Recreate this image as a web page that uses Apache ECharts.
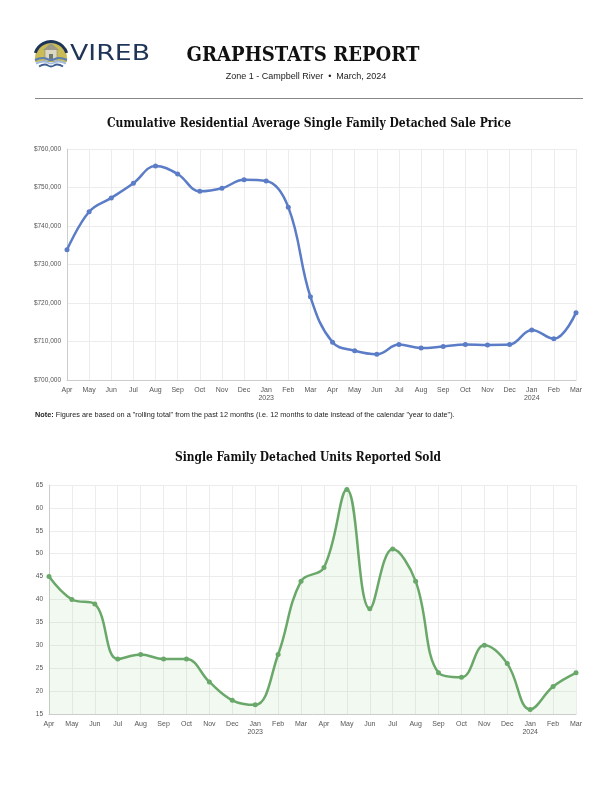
<!DOCTYPE html>
<html>
<head>
<meta charset="utf-8">
<title>GraphStats Report - Campbell River</title>
<script src="https://cdn.jsdelivr.net/npm/echarts@6/dist/echarts.min.js"></script>
<style>
  html, body { margin: 0; padding: 0; background: #fff; }
  #page { width: 612px; height: 792px; }
</style>
</head>
<body>
<div id="page"></div>
<script>
// months Apr 2022 .. Mar 2024, year shown under each January
var months = ['Apr', 'May', 'Jun', 'Jul', 'Aug', 'Sep', 'Oct', 'Nov', 'Dec', 'Jan\n2023', 'Feb', 'Mar',
              'Apr', 'May', 'Jun', 'Jul', 'Aug', 'Sep', 'Oct', 'Nov', 'Dec', 'Jan\n2024', 'Feb', 'Mar'];

// cumulative average sale price (rolling 12 months)
var priceValues = [733800, 743700, 747300, 751100, 755600, 753500, 749000, 749800, 752000, 751700, 744900, 721600,
                   709800, 707600, 706700, 709200, 708300, 708700, 709200, 709100, 709200, 713000, 710700, 717500];

// units reported sold
var soldValues = [45, 40, 39, 27, 28, 27, 27, 22, 18, 17, 28, 44,
                  47, 64, 38, 51, 44, 24, 23, 30, 26, 16, 21, 24];

var priceAxis = { min: 700000, max: 760000, step: 10000 };
var soldAxis = { min: 15, max: 65, step: 5 };

var slab = '"DejaVu Serif", serif';
var sans = '"Liberation Sans", Arial, sans-serif';

function money(v) {
    return '$' + v.toLocaleString('en-US');
}

// squeeze a text horizontally so it spans the given width
var measureCtx = document.createElement('canvas').getContext('2d');
function fitScale(text, font, width) {
    measureCtx.font = font;
    return width / measureCtx.measureText(text).width;
}

function heading(text, font, cx, cy, width) {
    return {
        type: 'text', x: cx, y: cy,
        scaleX: fitScale(text, font, width),
        style: { text: text, font: font, fill: '#111', align: 'center', verticalAlign: 'middle' }
    };
}

var mainFont = 'bold 20px ' + slab;
var chartFont = 'bold 12.5px ' + slab;
var logoFont = '22px "DejaVu Sans", sans-serif';

var xLabel = { color: '#555', fontSize: 7, fontFamily: sans, margin: 6, lineHeight: 8 };
var yLabel = { color: '#555', fontSize: 6.5, fontFamily: sans, margin: 6 };
var gridLine = { show: true, lineStyle: { color: '#ececec', width: 1 } };

var chart = echarts.init(document.getElementById('page'));

chart.setOption({
    animation: false,
    backgroundColor: '#fff',
    grid: [
        { left: 67, right: 36, top: 149, bottom: 412 },
        { left: 49, right: 36, top: 485, bottom: 78 }
    ],
    xAxis: [
        {
            gridIndex: 0, type: 'category', data: months, boundaryGap: false,
            axisLine: { lineStyle: { color: '#ccc' } },
            axisTick: { show: false },
            axisLabel: xLabel,
            splitLine: gridLine
        },
        {
            gridIndex: 1, type: 'category', data: months, boundaryGap: false,
            axisLine: { lineStyle: { color: '#ccc' } },
            axisTick: { show: false },
            axisLabel: xLabel,
            splitLine: gridLine
        }
    ],
    yAxis: [
        {
            gridIndex: 0, type: 'value',
            min: priceAxis.min, max: priceAxis.max, interval: priceAxis.step,
            axisLine: { show: true, lineStyle: { color: '#ccc' } },
            axisTick: { show: false },
            axisLabel: Object.assign({ formatter: money }, yLabel),
            splitLine: gridLine
        },
        {
            gridIndex: 1, type: 'value',
            min: soldAxis.min, max: soldAxis.max, interval: soldAxis.step,
            axisLine: { show: true, lineStyle: { color: '#ccc' } },
            axisTick: { show: false },
            axisLabel: yLabel,
            splitLine: gridLine
        }
    ],
    series: [
        {
            name: 'Average Sale Price', type: 'line',
            xAxisIndex: 0, yAxisIndex: 0,
            data: priceValues, smooth: 0.4,
            symbol: 'circle', symbolSize: 5,
            itemStyle: { color: '#5b7cc6' },
            lineStyle: { color: '#5b7cc6', width: 2.5 }
        },
        {
            name: 'Units Sold', type: 'line',
            xAxisIndex: 1, yAxisIndex: 1,
            data: soldValues, smooth: 0.4,
            symbol: 'circle', symbolSize: 5,
            itemStyle: { color: '#6aa86a' },
            lineStyle: { color: '#6aa86a', width: 2.5 },
            areaStyle: { color: 'rgba(120, 200, 120, 0.15)', origin: 'start' }
        }
    ],
    graphic: [
        // logo mark
        {
            type: 'group', x: 35, y: 39,
            children: [
                { type: 'sector', shape: { cx: 16, cy: 19, r0: 0, r: 16, startAngle: Math.PI, endAngle: Math.PI * 2 },
                  style: { fill: '#c9bb55' } },
                { type: 'rect', shape: { x: 0, y: 18, width: 32, height: 5 }, style: { fill: '#c9bb55' } },
                { type: 'arc', shape: { cx: 16, cy: 19, r: 16.5, startAngle: Math.PI * 1.1, endAngle: Math.PI * 1.9 },
                  style: { stroke: '#1f3557', lineWidth: 3, fill: null } },
                { type: 'rect', shape: { x: 10, y: 10, width: 12, height: 12 },
                  style: { fill: '#dcd8c6', stroke: '#8a8a7a', lineWidth: 0.6 } },
                { type: 'polygon', shape: { points: [[8, 11], [16, 4], [24, 11]] },
                  style: { fill: '#9c9a86' } },
                { type: 'rect', shape: { x: 14, y: 15, width: 4, height: 7 },
                  style: { fill: '#707a70' } },
                { type: 'polyline', shape: { points: [[0, 21], [8, 19], [16, 21], [24, 19], [32, 21]], smooth: 0.5 },
                  style: { stroke: '#5c7fb3', lineWidth: 2.2, fill: null } },
                { type: 'polyline', shape: { points: [[1, 24.5], [9, 22.5], [16, 24.5], [23, 22.5], [31, 24.5]], smooth: 0.5 },
                  style: { stroke: '#a3bcdd', lineWidth: 2, fill: null } },
                { type: 'polyline', shape: { points: [[4, 27.5], [10, 25.5], [16, 27.5], [22, 25.5], [28, 27.5]], smooth: 0.5 },
                  style: { stroke: '#3f5f92', lineWidth: 1.8, fill: null } }
            ]
        },
        {
            type: 'text', x: 70, y: 54,
            scaleX: fitScale('VIREB', logoFont, 80),
            style: { text: 'VIREB', fill: '#1f3557', font: logoFont, align: 'left', verticalAlign: 'middle' }
        },
        heading('GRAPHSTATS REPORT', mainFont, 303, 56, 233),
        {
            type: 'text', x: 306, y: 77,
            style: { text: 'Zone 1 - Campbell River  \u2022  March, 2024', fill: '#222', font: '9px ' + sans,
                     align: 'center', verticalAlign: 'middle' }
        },
        {
            type: 'line', shape: { x1: 35, y1: 98.5, x2: 583, y2: 98.5 },
            style: { stroke: '#888', lineWidth: 1 }
        },
        heading('Cumulative Residential Average Single Family Detached Sale Price', chartFont, 309, 124, 404),
        {
            type: 'text', x: 35, y: 415,
            style: {
                text: '{b|Note:} Figures are based on a "rolling total" from the past 12 months (i.e. 12 months to date instead of the calendar "year to date").',
                fill: '#222', font: '7.3px ' + sans, verticalAlign: 'middle',
                rich: { b: { fontWeight: 'bold', fontSize: 7.3, fontFamily: sans, fill: '#222' } }
            }
        },
        heading('Single Family Detached Units Reported Sold', chartFont, 308, 458, 266)
    ]
});
</script>
</body>
</html>
